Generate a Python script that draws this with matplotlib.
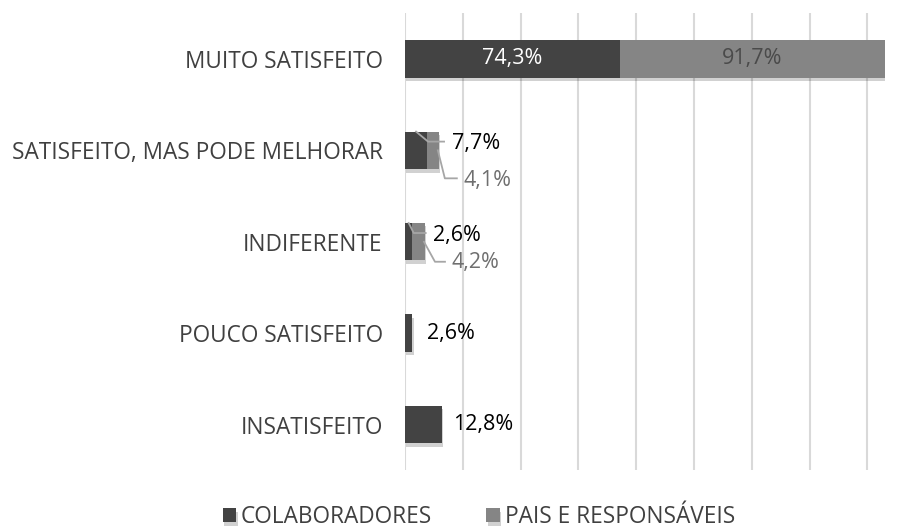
import matplotlib
matplotlib.use("Agg")
import matplotlib.pyplot as plt
import matplotlib.patheffects as pe
from matplotlib.lines import Line2D
from matplotlib.transforms import IdentityTransform

plt.rcParams['font.family'] = ['Open Sans', 'DejaVu Sans']

categories = ["MUITO SATISFEITO", "SATISFEITO, MAS PODE MELHORAR", "INDIFERENTE",
              "POUCO SATISFEITO", "INSATISFEITO"]
colaboradores = [74.3, 7.7, 2.6, 2.6, 12.8]
pais = [91.7, 4.1, 4.2, 0.0, 0.0]
series_names = ["COLABORADORES", "PAIS E RESPONSÁVEIS"]

dark = "#434343"
gray = "#858585"
grid_c = "#d9d9d9"
leader_c = "#a6a6a6"
fs_cat = 16.3
fs_lab = 15.5

fig = plt.figure(figsize=(9.12, 5.29), dpi=100)
ax = fig.add_axes([0.444, 0.111, 0.526, 0.864])

y = list(range(len(categories)))
h = 0.41
shadow = [pe.SimplePatchShadow(offset=(1, -2.5), shadow_rgbFace="#000000", alpha=0.18), pe.Normal()]
b1 = ax.barh(y, colaboradores, height=h, color=dark, zorder=3, path_effects=shadow)
b2 = ax.barh(y, pais, left=colaboradores, height=h, color=gray, zorder=3)
for bar, v in zip(b2, pais):
    if v > 0:
        bar.set_path_effects(shadow)

ax.set_xlim(0, 166)
ax.set_ylim(len(categories) - 0.5, -0.5)
ax.set_xticks(range(0, 161, 20))
ax.xaxis.grid(True, color=grid_c, linewidth=1.5, zorder=0)
ax.tick_params(axis='x', length=0, labelbottom=False)
ax.tick_params(axis='y', length=0, pad=16, labelsize=fs_cat, labelcolor="#404040")
ax.set_yticks(y)
ax.set_yticklabels(categories)
for s in ax.spines.values():
    s.set_visible(False)

def fmt(v):
    return f"{v:.1f}%".replace(".", ",")

# top bar: labels inside
ax.text(colaboradores[0] / 2, 0, fmt(colaboradores[0]), ha='center', va='center',
        color="white", fontsize=fs_lab, zorder=5)
ax.text(colaboradores[0] + pais[0] / 2, 0, fmt(pais[0]), ha='center', va='center',
        color="#4a4a4a", fontsize=fs_lab, zorder=5)

# labels with leader lines; offsets in pixels (down is positive)
def leader(xv, yv, elbow, end, txt_off, txt, col):
    px, py = ax.transData.transform((xv, yv))
    xs = [px, px + elbow[0], px + end[0]]
    ys = [py, py - elbow[1], py - end[1]]
    fig.add_artist(Line2D(xs, ys, transform=IdentityTransform(), color=leader_c, lw=1.3,
                          zorder=4))
    ax.annotate(txt, xy=(xv, yv), xytext=(txt_off[0] * 0.72, -txt_off[1] * 0.72),
                textcoords='offset points', ha='left', va='center', fontsize=fs_lab,
                color=col, zorder=5)

leader(colaboradores[1] / 2, 1 - h / 2, (12, 10), (28, 10), (36, 12), fmt(colaboradores[1]), "black")
leader(colaboradores[1] + pais[1] * 0.9, 1, (7, 28), (19, 28), (26, 30), fmt(pais[1]), "#6f6f6f")
leader(colaboradores[2] / 2, 2 - h / 2, (5, 10), (17, 10), (24, 12), fmt(colaboradores[2]), "black")
leader(colaboradores[2] + pais[2] * 0.95, 2, (11, 20), (21, 20), (28, 21), fmt(pais[2]), "#6f6f6f")

# plain labels at bar ends
for i, off in ((3, 15), (4, 11)):
    ax.annotate(fmt(colaboradores[i]), xy=(colaboradores[i], i), xytext=(off * 0.72, 0),
                textcoords='offset points', ha='left', va='center', fontsize=fs_lab,
                color="black", zorder=5)

leg = fig.legend([b1, b2], series_names, loc='lower center', ncol=2, frameon=False,
                 bbox_to_anchor=(0.525, -0.039), fontsize=fs_cat, handlelength=0.6,
                 handleheight=0.6, handletextpad=0.2, columnspacing=2.4)
for t in leg.get_texts():
    t.set_color("#404040")

fig.savefig("out.png", dpi=100)
